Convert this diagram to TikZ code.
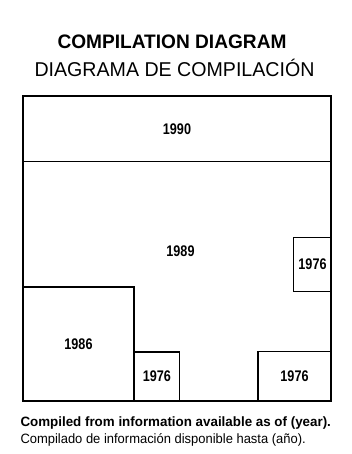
\documentclass[tikz,border=0pt]{standalone}
\usepackage{fontspec}
\setmainfont{Liberation Sans}
\newfontfamily\titlefont{Liberation Sans}[FakeStretch=0.98]
\newfontfamily\yearfont{Liberation Sans}[FakeStretch=0.82]
\newfontfamily\notefont{Liberation Sans}[FakeStretch=0.99]
\newfontfamily\notafont{Liberation Sans}[FakeStretch=0.96]
\usetikzlibrary{positioning}

\begin{document}
\begin{tikzpicture}[x=1pt, y=-1pt]

  \tikzstyle{area} = [rectangle, draw, line width=1.1pt, inner sep=0pt,
    font=\yearfont\bfseries\fontsize{15.4}{16}\selectfont];
  \tikzstyle{year} = [inner sep=0pt, font=\yearfont\bfseries\fontsize{15.4}{16}\selectfont];
  \useasboundingbox (0,0) rectangle (351,454);

  % heading
  \node[anchor=base, font=\titlefont\bfseries\fontsize{19.5}{22}\selectfont] (title) at (172,49) {COMPILATION DIAGRAM};
  \node[anchor=base, font=\titlefont\fontsize{20}{22}\selectfont] (subtitle) at (174.5,76.7) {DIAGRAMA DE COMPILACIÓN};

  % map areas
  \node[area, minimum width=308pt, minimum height=305pt] (frame) at (177,248.5) {};
  \node[area, minimum width=308pt, minimum height=65.7pt] (band1990) at (177,128.85) {1990};
  \node[year] (label1989) at (180.5,251) {1989};
  \node[area, minimum width=111pt, minimum height=114pt] (box1986) at (78.5,344) {1986};
  \node[area, minimum width=38.4pt, minimum height=54pt] (box1976a) at (312.5,264.6) {1976};
  \node[area, minimum width=45.7pt, minimum height=49pt] (box1976b) at (156.85,376.5) {1976};
  \node[area, minimum width=73pt, minimum height=49.3pt] (box1976c) at (294.5,376.35) {1976};

  % note
  \node[anchor=base west, inner sep=0pt, font=\notefont\bfseries\fontsize{13.5}{15}\selectfont] (note) at (20.3,426.7) {Compiled from information available as of (year).};
  \node[anchor=base west, inner sep=0pt, font=\notafont\fontsize{13.5}{15}\selectfont] (nota) at (20.3,443.3) {Compilado de información disponible hasta (año).};
\end{tikzpicture}
\end{document}
